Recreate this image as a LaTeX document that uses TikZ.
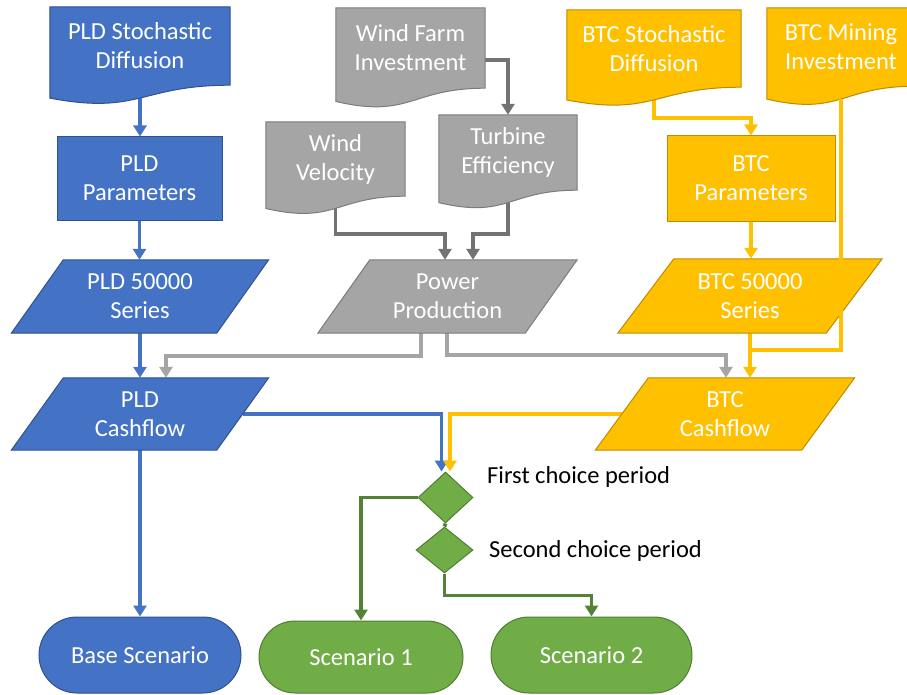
\documentclass[tikz,border=0pt]{standalone}
\usepackage{fontspec}
\setmainfont{Carlito}
\usetikzlibrary{arrows.meta,calc,positioning,shapes.geometric,backgrounds}
\definecolor{pldfill}{HTML}{4472C4}
\definecolor{pldline}{HTML}{2F528F}
\definecolor{windfill}{HTML}{A5A5A5}
\definecolor{windline}{HTML}{7B7B7B}
\definecolor{windarrow}{HTML}{737373}
\definecolor{btcfill}{HTML}{FFC000}
\definecolor{btcline}{HTML}{BC8C00}
\definecolor{scenfill}{HTML}{70AD47}
\definecolor{scenline}{HTML}{507E32}
\definecolor{scenarrow}{HTML}{548235}

\begin{document}
\begin{tikzpicture}[x=1pt,y=-1pt,>={Triangle[width=13pt,length=11pt]},
  every node/.style={inner sep=0pt,align=center,font=\fontsize{24.5}{29}\selectfont},
  box/.style={text=white,minimum width=#1},
  link/.style={line width=3.8pt},
  pldbox/.style={fill=pldfill,draw=pldline,line width=1pt},
  windbox/.style={fill=windfill,draw=windline,line width=1pt},
  btcbox/.style={fill=btcfill,draw=btcline,line width=1pt},
  scenbox/.style={fill=scenfill,draw=scenline,line width=1pt}]
  \useasboundingbox (0,0) rectangle (907,695);
  % documents (text part only, the wave is drawn below)
  \node[box=180pt,minimum height=78pt] (pldsd) at (140,46) {PLD Stochastic\\Diffusion};
  \node[box=149pt,minimum height=80pt] (wfinv) at (410.5,48) {Wind Farm\\Investment};
  \node[box=139pt,minimum height=74pt] (wvel) at (335.5,159) {Wind\\Velocity};
  \node[box=138pt,minimum height=75pt] (turb) at (508,152.5) {Turbine\\Efficiency};
  \node[box=174pt,minimum height=77pt] (btcsd) at (654,48.5) {BTC Stochastic\\Diffusion};
  \node[box=148pt,minimum height=78pt] (btcmi) at (841,47) {BTC Mining\\Investment};
  \node[box=165pt,minimum height=83pt,pldbox] (pldpar) at (139.5,178.5) {PLD\\Parameters};
  \node[box=168pt,minimum height=85pt,btcbox] (btcpar) at (751,178.5) {BTC\\Parameters};
  % data
  \node[box=205pt,minimum height=73pt] (pld50) at (140,296.5) {PLD 50000\\Series};
  \node[box=205pt,minimum height=72pt] (pldcf) at (140,414) {PLD\\Cashflow};
  \node[box=207pt,minimum height=73pt] (power) at (447.5,296.5) {Power\\Production};
  \node[box=208pt,minimum height=74pt] (btc50) at (750,296) {BTC 50000\\Series};
  \node[box=206pt,minimum height=72pt] (btccf) at (725,414) {BTC\\Cashflow};
  % choices
  \node[diamond,scenbox,minimum width=55pt,minimum height=51pt] (d1) at (445.5,497.5) {};
  \node[diamond,scenbox,minimum width=57pt,minimum height=46pt] (d2) at (444.5,550) {};
  \node[anchor=west] (lab1) at (487,477) {First choice period};
  \node[anchor=west] (lab2) at (489,551) {Second choice period};
  \node[box=202pt,minimum height=76pt,rounded corners=38pt,pldbox] (base) at (140,655) {Base Scenario};
  \node[box=204pt,minimum height=72pt,rounded corners=36pt,scenbox] (sc1) at (361,657) {Scenario 1};
  \node[box=201pt,minimum height=76pt,rounded corners=38pt,scenbox] (sc2) at (591.5,655) {Scenario 2};

  \begin{scope}[on background layer]
    \draw[link,pldfill,->] (pldsd.south) -- (pldsd.south |- pldpar.north);
    \draw[link,pldfill,->] (pldpar.south) -- (pldpar.south |- pld50.north);
    \draw[link,pldfill,->] (pld50.south) -- (pldcf.north);
    \draw[link,pldfill,->] (pldcf.south) -- (pldcf.south |- base.north);
    \draw[link,pldfill,->] (pldcf) -| ([xshift=-4pt]d1.north);
    \draw[link,btcfill,->] (btccf) -| ([xshift=4.5pt]d1.north);
    \draw[link,windarrow,->] ([yshift=-12pt]wfinv.east) -| (turb.north);
    \draw[link,windarrow,->] (wvel.south) -- (wvel.south |- 0,234) -| ([xshift=-2.5pt]power.north);
    \draw[link,windarrow,->] (turb.south) -- (turb.south |- 0,234) -| ([xshift=25.5pt]power.north);
    \draw[link,windfill,->] ([xshift=-26.5pt]power.south) -- ++(0,23) -| ([xshift=26pt]pldcf.north);
    \draw[link,windfill,->] ([xshift=-0.5pt]power.south) -- ++(0,22) -| ([xshift=1pt]btccf.north);
    \draw[link,btcfill,->] (btcsd.south) -- ++(0,31) -| (btcpar.north);
    \draw[link,btcfill,->] (btcpar.south) -- (btcpar.south |- btc50.north);
    \draw[link,btcfill,->] (btc50.south) -- (btc50.south |- btccf.north);
    \draw[link,scenarrow,->] (d1.west) -| (sc1.north);
    \draw[link,scenarrow] (d1.south) -- (d2.north);
    \draw[link,scenarrow,->] (d2.south) -- ++(0,22) -| (sc2.north);
    \foreach \n/\s in {pldsd/pldbox,wfinv/windbox,wvel/windbox,turb/windbox,btcsd/btcbox,btcmi/btcbox}
      \draw[\s] (\n.north west) -- (\n.north east) -- (\n.south east)
        .. controls (\n.south) and ($(\n.north)!1.382!(\n.south)$) .. ($(\n.north west)!1.165!(\n.south west)$) -- cycle;
    \foreach \n/\s/\d in {pld50/pldbox/26,pldcf/pldbox/26,power/windbox/26,btc50/btcbox/28,btccf/btcbox/26.5}
      \draw[\s] ([xshift=\d pt]\n.north west) -- ([xshift=\d pt]\n.north east)
        -- ([xshift=-\d pt]\n.south east) -- ([xshift=-\d pt]\n.south west) -- cycle;
  \end{scope}
  \draw[link,btcfill] ([yshift=-13pt]btcmi.south) |- (btc50.south |- 0,350);
\end{tikzpicture}
\end{document}
